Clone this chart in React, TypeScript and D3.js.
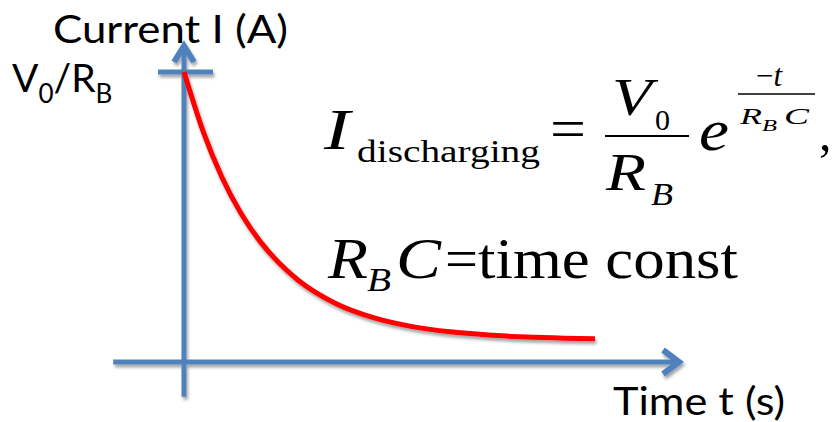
import React from 'react';
import * as d3 from 'd3';

// Discharging current (t in units of R_B·C, I in units of V0/R_B)
const timeValues = [0, 0.25, 0.5, 0.75, 1, 1.25, 1.5, 2, 2.5, 3, 3.5, 4, 4.5, 5, 5.4];
const currentValues = [1.0, 0.796, 0.636, 0.512, 0.416, 0.341, 0.282, 0.201, 0.152, 0.122, 0.104, 0.093, 0.086, 0.082, 0.08];
const timeAxisExtent = [-0.93, 6.53];
const currentAxisExtent = [-0.12, 1.1];
const currentTicks = [1];

const W = 840;
const H = 422;
const AXIS = '#4f81bd';
const SANS = 'Lato, "Open Sans", sans-serif';
const SERIF = '"Liberation Serif", "Times New Roman", serif';

export default function App() {
  const x = d3.scaleLinear().domain([0, 5.4]).range([184, 595]);
  const y = d3.scaleLinear().domain([0, 1]).range([362, 72]);

  const pts = timeValues.map((t, i) => [t, currentValues[i]] as [number, number]);
  const line = d3
    .line<[number, number]>()
    .x((d) => x(d[0]))
    .y((d) => y(d[1]))
    .curve(d3.curveMonotoneX);

  const x0 = x(0);
  const y0 = y(0);
  const xEnd = x(timeAxisExtent[1]);
  const yTop = y(currentAxisExtent[1]);

  return (
    <div style={{ position: 'fixed', left: 0, top: 0 }}>
      <svg width={W} height={H} viewBox={`0 0 ${W} ${H}`} style={{ display: 'block', background: '#fff' }}>
        <defs>
          <filter id="shadow" filterUnits="userSpaceOnUse" x={0} y={0} width={W} height={H}>
            <feDropShadow dx={1.5} dy={3} stdDeviation={1.8} floodColor="#000" floodOpacity={0.35} />
          </filter>
        </defs>
        <rect width={W} height={H} fill="#fff" />

        <g filter="url(#shadow)">
          {/* horizontal axis */}
          <line x1={x(timeAxisExtent[0])} y1={y0} x2={xEnd - 3} y2={y0} stroke={AXIS} strokeWidth={5} />
          <polyline
            points={`${xEnd - 18},${y0 - 12} ${xEnd - 2},${y0} ${xEnd - 18},${y0 + 12}`}
            fill="none"
            stroke={AXIS}
            strokeWidth={6}
            strokeLinejoin="miter"
          />
          {/* vertical axis */}
          <line x1={x0} y1={y(currentAxisExtent[0])} x2={x0} y2={yTop + 3} stroke={AXIS} strokeWidth={5} />
          <polyline
            points={`${x0 - 10},${yTop + 19} ${x0},${yTop + 3} ${x0 + 10},${yTop + 19}`}
            fill="none"
            stroke={AXIS}
            strokeWidth={6}
            strokeLinejoin="miter"
          />
          {currentTicks.map((v) => (
            <line key={v} x1={x0 - 26} x2={x0 + 29} y1={y(v)} y2={y(v)} stroke={AXIS} strokeWidth={5} />
          ))}
          {/* curve */}
          <path d={line(pts) || ''} fill="none" stroke="#ff0000" strokeWidth={5} />
        </g>

        {/* axis titles */}
        <text x={53} y={43} fontFamily={SANS} fontSize={39} fill="#000" textLength={235} lengthAdjust="spacingAndGlyphs">
          Current I (A)
        </text>
        <text x={12} y={92} fontFamily={SANS} fontSize={39} fill="#000">
          V<tspan fontSize={26} dy={11}>0</tspan>
          <tspan dy={-11}>/R</tspan>
          <tspan fontSize={26} dy={11}>B</tspan>
        </text>
        <text x={613} y={415} fontFamily={SANS} fontSize={39} fill="#000" textLength={172} lengthAdjust="spacingAndGlyphs">
          Time t (s)
        </text>

        {/* formula */}
        <g fontFamily={SERIF} fill="#000">
          <text x={324} y={149} fontSize={58} fontStyle="italic" textLength={26} lengthAdjust="spacingAndGlyphs">I</text>
          <text x={357} y={162} fontSize={31} textLength={183} lengthAdjust="spacingAndGlyphs">discharging</text>
          <text x={550} y={148} fontSize={56} textLength={36} lengthAdjust="spacingAndGlyphs">=</text>
          <line x1={605} x2={689} y1={136} y2={136} stroke="#000" strokeWidth={2} />
          <text x={612} y={115} fontSize={52} fontStyle="italic" textLength={40} lengthAdjust="spacingAndGlyphs">V</text>
          <text x={655} y={130} fontSize={30}>0</text>
          <text x={606} y={190} fontSize={52} fontStyle="italic" textLength={40} lengthAdjust="spacingAndGlyphs">R</text>
          <text x={651} y={205} fontSize={31} fontStyle="italic" textLength={22} lengthAdjust="spacingAndGlyphs">B</text>
          <text x={699} y={150} fontSize={60} fontStyle="italic" textLength={30} lengthAdjust="spacingAndGlyphs">e</text>
          <text x={756} y={86} fontSize={31}>
            −<tspan fontStyle="italic">t</tspan>
          </text>
          <line x1={738} x2={815} y1={94} y2={94} stroke="#000" strokeWidth={1.5} />
          <text x={740} y={124} fontSize={24} fontStyle="italic" textLength={22} lengthAdjust="spacingAndGlyphs">R</text>
          <text x={762} y={131} fontSize={17} fontStyle="italic" textLength={15} lengthAdjust="spacingAndGlyphs">B</text>
          <text x={784} y={124} fontSize={24} fontStyle="italic" textLength={25} lengthAdjust="spacingAndGlyphs">C</text>
          <text x={819} y={150} fontSize={50}>,</text>

          <text x={328} y={278} fontSize={56} fontStyle="italic" textLength={40} lengthAdjust="spacingAndGlyphs">R</text>
          <text x={367} y={291} fontSize={33} fontStyle="italic" textLength={24} lengthAdjust="spacingAndGlyphs">B</text>
          <text x={396} y={278} fontSize={56} fontStyle="italic" textLength={45} lengthAdjust="spacingAndGlyphs">C</text>
          <text x={445} y={278} fontSize={56} textLength={33} lengthAdjust="spacingAndGlyphs">=</text>
          <text x={478} y={278} fontSize={56} textLength={260} lengthAdjust="spacingAndGlyphs">time const</text>
        </g>
      </svg>
    </div>
  );
}
